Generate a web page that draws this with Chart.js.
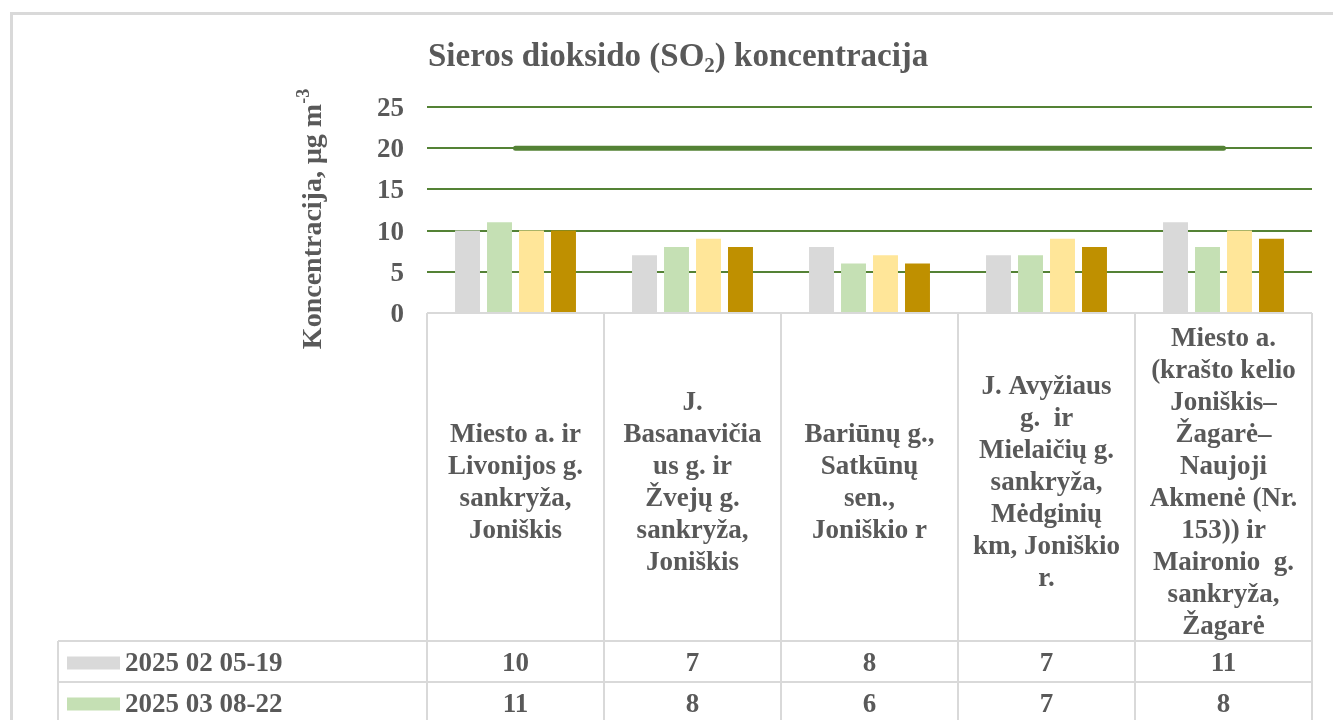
<!DOCTYPE html>
<html lang="lt">
<head>
<meta charset="utf-8">
<title>Sieros dioksido (SO2) koncentracija</title>
<script src="https://cdn.jsdelivr.net/npm/chart.js@4"></script>
<style>
  html, body { margin: 0; padding: 0; background: #fff; overflow: hidden; }
  #wrap { width: 1333px; height: 720px; }
</style>
</head>
<body>
<div id="wrap"><canvas id="chartSO2" width="1333" height="720"></canvas></div>
<script>
// vietos (eilutes kaip Excel lenteleje)
const categories = [
  ['Miesto a. ir', 'Livonijos g.', 'sankryža,', 'Joniškis'],
  ['J.', 'Basanavičia', 'us g. ir', 'Žvejų g.', 'sankryža,', 'Joniškis'],
  ['Bariūnų g.,', 'Satkūnų', 'sen.,', 'Joniškio r'],
  ['J. Avyžiaus', 'g.  ir', 'Mielaičių g.', 'sankryža,', 'Mėdginių', 'km, Joniškio', 'r.'],
  ['Miesto a.', '(krašto kelio', 'Joniškis–', 'Žagarė–', 'Naujoji', 'Akmenė (Nr.', '153)) ir', 'Maironio  g.', 'sankryža,', 'Žagarė']
];
const seriesNames = ['2025 02 05-19', '2025 03 08-22', '3 matavimas', '4 matavimas'];
const seriesColors = ['#d9d9d9', '#c5e0b4', '#ffe699', '#bf9000'];
const matavimas1 = [10, 7, 8, 7, 11];
const matavimas2 = [11, 8, 6, 7, 8];
const matavimas3 = [10, 9, 7, 9, 10];
const matavimas4 = [10, 8, 6, 8, 9];
const ribineVerte = [20, 20, 20, 20, 20];
const yMax = 25;
const yStep = 5;

const chartTitle = ['Sieros dioksido (SO', '2', ') koncentracija'];
const yTitle = ['Koncentracija, μg m', '-3'];

const FONT = "'Liberation Serif', 'Times New Roman', serif";
const TEXT = '#595959';
const LINE = '#d9d9d9';
const GREEN = '#548235';

function font(size) { return 'bold ' + size + 'px ' + FONT; }

const lentele = {
  id: 'lentele',
  beforeDraw(chart) {
    const ctx = chart.ctx;
    ctx.save();
    ctx.strokeStyle = LINE;
    ctx.lineWidth = 3;
    ctx.beginPath();
    ctx.moveTo(11.5, chart.height);
    ctx.lineTo(11.5, 13.5);
    ctx.lineTo(chart.width, 13.5);
    ctx.stroke();
    ctx.restore();
  },
  afterDraw(chart) {
    const { ctx, chartArea: a, scales: { x } } = chart;
    const n = categories.length;
    const colW = (a.right - a.left) / n;
    const headTop = a.bottom;
    const headBottom = a.bottom + 328;
    const rowH = 41;
    const legendLeft = 58;
    const rows = chart.data.datasets.filter(d => d.type !== 'line');
    const tableBottom = headBottom + rowH * rows.length;

    ctx.save();
    ctx.strokeStyle = LINE;
    ctx.lineWidth = 2;
    ctx.beginPath();
    ctx.moveTo(a.left, headTop); ctx.lineTo(a.right, headTop);
    for (let r = 0; r <= rows.length; r++) {
      ctx.moveTo(legendLeft, headBottom + r * rowH);
      ctx.lineTo(a.right, headBottom + r * rowH);
    }
    for (let i = 0; i <= n; i++) {
      const xx = a.left + i * colW;
      ctx.moveTo(xx, headTop); ctx.lineTo(xx, tableBottom);
    }
    ctx.moveTo(legendLeft, headBottom); ctx.lineTo(legendLeft, tableBottom);
    ctx.stroke();

    // vietu pavadinimai
    ctx.fillStyle = TEXT;
    ctx.font = font(27);
    ctx.textAlign = 'center';
    ctx.textBaseline = 'middle';
    const lh = 32;
    const mid = (headTop + headBottom) / 2 + 6;
    categories.forEach((lines, i) => {
      const cx = x.getPixelForValue(i);
      const y0 = mid - (lines.length - 1) * lh / 2;
      lines.forEach((t, j) => ctx.fillText(t, cx, y0 + j * lh));
    });

    // duomenu eilutes
    rows.forEach((ds, r) => {
      const cy = headBottom + r * rowH + rowH / 2 + 1;
      ctx.fillStyle = ds.backgroundColor;
      ctx.fillRect(67, cy - 6, 53, 13);
      ctx.fillStyle = TEXT;
      ctx.textAlign = 'left';
      ctx.fillText(ds.label, 125, cy + 2);
      ctx.textAlign = 'center';
      ds.data.forEach((v, i) => ctx.fillText(String(v), x.getPixelForValue(i), cy + 2));
    });

    // pavadinimas su indeksu
    ctx.textAlign = 'left';
    ctx.textBaseline = 'alphabetic';
    let tx = 428;
    const ty = 66;
    ctx.font = font(33);
    ctx.fillText(chartTitle[0], tx, ty);
    tx += ctx.measureText(chartTitle[0]).width;
    ctx.font = font(21);
    ctx.fillText(chartTitle[1], tx, ty + 6);
    tx += ctx.measureText(chartTitle[1]).width;
    ctx.font = font(33);
    ctx.fillText(chartTitle[2], tx, ty);

    // y asies pavadinimas
    ctx.translate(321, (a.top + a.bottom) / 2 + 9);
    ctx.rotate(-Math.PI / 2);
    ctx.font = font(28);
    const w1 = ctx.measureText(yTitle[0]).width;
    ctx.font = font(18);
    const w2 = ctx.measureText(yTitle[1]).width;
    let sx = -(w1 + w2) / 2;
    ctx.font = font(28);
    ctx.fillText(yTitle[0], sx, 0);
    ctx.font = font(18);
    ctx.fillText(yTitle[1], sx + w1, -12);
    ctx.restore();
  }
};

const barSets = [matavimas1, matavimas2, matavimas3, matavimas4].map((d, i) => ({
  label: seriesNames[i],
  data: d,
  backgroundColor: seriesColors[i],
  categoryPercentage: 0.723,
  barPercentage: 0.78,
  order: 1
}));

new Chart(document.getElementById('chartSO2'), {
  type: 'bar',
  data: {
    labels: categories.map(c => c.join(' ')),
    datasets: [
      ...barSets,
      { type: 'line', label: 'Ribinė vertė', data: ribineVerte, borderColor: GREEN, borderWidth: 5,
        borderCapStyle: 'round', pointRadius: 0, fill: false, order: 0 }
    ]
  },
  options: {
    responsive: false,
    animation: false,
    devicePixelRatio: 1,
    layout: { padding: { top: 107, right: 21, bottom: 407, left: 0 } },
    plugins: { legend: { display: false }, tooltip: { enabled: false }, title: { display: false } },
    scales: {
      x: { display: false },
      y: {
        min: 0, max: yMax,
        ticks: { stepSize: yStep, padding: 23, labelOffset: 2, color: TEXT, font: { family: FONT, size: 27, weight: 'bold' } },
        grid: { color: c => c.tick.value === 0 ? 'rgba(0,0,0,0)' : GREEN, lineWidth: 2, drawTicks: false },
        border: { display: false },
        afterFit(s) { s.width = 427; }
      }
    }
  },
  plugins: [lentele]
});
</script>
</body>
</html>
